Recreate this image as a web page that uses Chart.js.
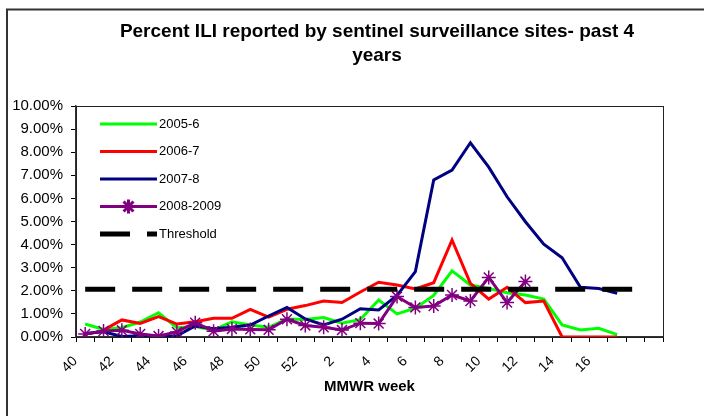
<!DOCTYPE html>
<html>
<head>
<meta charset="utf-8">
<script src="https://cdn.jsdelivr.net/npm/chart.js@4.4.1/dist/chart.umd.min.js"></script>
<style>
  html, body { margin: 0; padding: 0; background: #fff; }
  #wrap { width: 704px; height: 416px; }
</style>
</head>
<body>
<div id="wrap"><canvas id="iliChart" width="704" height="416"></canvas></div>
<script>
// MMWR weeks 40..52, 1..17, plus two empty slots at the end of the axis
const weeks = ['40','41','42','43','44','45','46','47','48','49','50','51','52',
    '1','2','3','4','5','6','7','8','9','10','11','12','13','14','15','16','17','18',''];
// only every second week gets a label; 18 is not shown
const weekLabels = ['40','','42','','44','','46','','48','','50','','52',
    '','2','','4','','6','','8','','10','','12','','14','','16','','',''];

const yTicks = [0, 1, 2, 3, 4, 5, 6, 7, 8, 9, 10];

const titleLines = ['Percent ILI reported by sentinel surveillance sites- past 4', 'years'];

// percent ILI
const ili2005 = [0.56, 0.33, 0.40, 0.65, 1.05, 0.40, 0.45, 0.30, 0.66, 0.52, 0.42, 0.78, 0.76,
    0.84, 0.60, 0.76, 1.60, 1.00, 1.25, 1.80, 2.86, 2.25, 2.10, 1.92, 1.82, 1.64, 0.52, 0.30, 0.38, 0.10];
const ili2006 = [null, 0.30, 0.74, 0.59, 0.88, 0.56, 0.66, 0.81, 0.81, 1.20, 0.86, 1.20, 1.36,
    1.56, 1.49, 1.95, 2.37, 2.25, 2.08, 2.35, 4.20, 2.32, 1.64, 2.15, 1.49, 1.56, 0, 0, 0, 0];
const ili2007 = [0.15, 0.23, 0.02, 0.05, 0.00, 0.05, 0.48, 0.36, 0.42, 0.52, 0.91, 1.28, 0.78,
    0.52, 0.77, 1.22, 1.17, 1.80, 2.83, 6.80, 7.23, 8.41, 7.35, 6.07, 4.99, 4.02, 3.43, 2.15, 2.10, 1.89];
const ili2008 = [0.13, 0.26, 0.29, 0.13, 0.04, 0.22, 0.62, 0.25, 0.35, 0.33, 0.31, 0.77, 0.50,
    0.42, 0.30, 0.60, 0.58, 1.75, 1.28, 1.34, 1.82, 1.56, 2.58, 1.49, 2.40];
const threshold = [2.07, 2.07, 2.07, 2.07, 2.07, 2.07, 2.07, 2.07, 2.07, 2.07, 2.07, 2.07, 2.07,
    2.07, 2.07, 2.07, 2.07, 2.07, 2.07, 2.07, 2.07, 2.07, 2.07, 2.07, 2.07, 2.07, 2.07, 2.07, 2.07, 2.07, 2.07];

const FONT = "'Liberation Sans', Arial, sans-serif";
Chart.defaults.font.family = FONT;
Chart.defaults.color = '#000';

// outer frame, title and plot area box
const framePlugin = {
    id: 'frame',
    beforeDraw(chart) {
        const ctx = chart.ctx;
        ctx.save();
        ctx.strokeStyle = '#333';
        ctx.lineWidth = 2;
        ctx.beginPath();
        ctx.moveTo(7, 416);
        ctx.lineTo(7, 9.5);
        ctx.lineTo(704, 9.5);
        ctx.stroke();
        // title, centred a bit right of the canvas like the original
        ctx.fillStyle = '#000';
        ctx.font = 'bold 19px ' + FONT;
        ctx.textAlign = 'center';
        ctx.textBaseline = 'middle';
        titleLines.forEach((t, i) => ctx.fillText(t, 377, 32 + i * 24));
        ctx.restore();
    },
    afterDatasetsDraw(chart) {
        const a = chart.chartArea;
        const ctx = chart.ctx;
        ctx.save();
        ctx.strokeStyle = '#222';
        ctx.lineWidth = 1;
        ctx.strokeRect(a.left + 0.5, a.top + 0.5, a.right - a.left, a.bottom - a.top);
        ctx.restore();
    }
};

// legend drawn inside the plot, Excel style (line sample, marker in the middle)
const legendPlugin = {
    id: 'insideLegend',
    afterDraw(chart) {
        const ctx = chart.ctx;
        const sets = chart.data.datasets;
        const x0 = 100, x1 = 157;
        ctx.save();
        sets.forEach((ds, i) => {
            const y = 124 + i * 27.5;
            ctx.strokeStyle = ds.borderColor;
            ctx.lineWidth = ds.borderWidth;
            ctx.setLineDash(ds.borderDash || []);
            ctx.beginPath();
            ctx.moveTo(x0, y);
            ctx.lineTo(x1, y);
            ctx.stroke();
            ctx.setLineDash([]);
            if (ds.pointRadius > 0) {
                Chart.helpers.drawPoint(ctx, {
                    pointStyle: ds.pointStyle,
                    radius: ds.pointRadius,
                    borderWidth: ds.pointBorderWidth
                }, (x0 + x1) / 2, y);
            }
            ctx.fillStyle = '#000';
            ctx.font = '13px ' + FONT;
            ctx.textBaseline = 'middle';
            ctx.fillText(ds.label, x1 + 2, y);
        });
        ctx.restore();
    }
};

function lineSet(label, data, color, width, order) {
    return {
        label: label,
        data: data,
        borderColor: color,
        backgroundColor: color,
        borderWidth: width,
        pointRadius: 0,
        pointHoverRadius: 0,
        tension: 0,
        fill: false,
        order: order
    };
}

const datasets = [
    lineSet('2005-6', ili2005, '#00ff00', 3, 4),
    lineSet('2006-7', ili2006, '#ff0000', 3, 3),
    lineSet('2007-8', ili2007, '#000080', 3, 2),
    Object.assign(lineSet('2008-2009', ili2008, '#800080', 3, 1), {
        pointStyle: 'star',
        pointRadius: 7,
        pointBorderWidth: 1.5,
        pointBorderColor: '#800080'
    }),
    Object.assign(lineSet('Threshold', threshold, '#000000', 5, 0), {
        borderDash: [30, 17],
        borderCapStyle: 'butt'
    })
];

new Chart(document.getElementById('iliChart'), {
    type: 'line',
    data: { labels: weeks, datasets: datasets },
    plugins: [framePlugin, legendPlugin],
    options: {
        responsive: false,
        animation: false,
        layout: { padding: { left: 0, right: 41, top: 106, bottom: 0 } },
        plugins: {
            legend: { display: false },
            tooltip: { enabled: false },
            title: { display: false }
        },
        scales: {
            x: {
                offset: true,
                afterFit: (scale) => { scale.height = 79; },
                grid: {
                    offset: true,
                    drawOnChartArea: false,
                    tickLength: 5,
                    color: '#000'
                },
                border: { color: '#333', width: 1.5 },
                ticks: {
                    autoSkip: false,
                    minRotation: 45,
                    maxRotation: 45,
                    labelOffset: -10,
                    padding: 11,
                    font: { size: 14 },
                    callback: (v, i) => weekLabels[i]
                },
                title: {
                    display: true,
                    text: 'MMWR week',
                    font: { size: 15, weight: 'bold' },
                    padding: { top: 0, bottom: 20 }
                }
            },
            y: {
                min: 0,
                max: 10,
                afterFit: (scale) => { scale.width = 76; },
                afterBuildTicks: (scale) => { scale.ticks = yTicks.map(v => ({ value: v })); },
                grid: {
                    drawOnChartArea: false,
                    tickLength: 5,
                    color: '#000'
                },
                border: { color: '#333', width: 1.5 },
                ticks: {
                    padding: 8,
                    font: { size: 15 },
                    callback: (v) => v.toFixed(2) + '%'
                }
            }
        }
    }
});
</script>
</body>
</html>
